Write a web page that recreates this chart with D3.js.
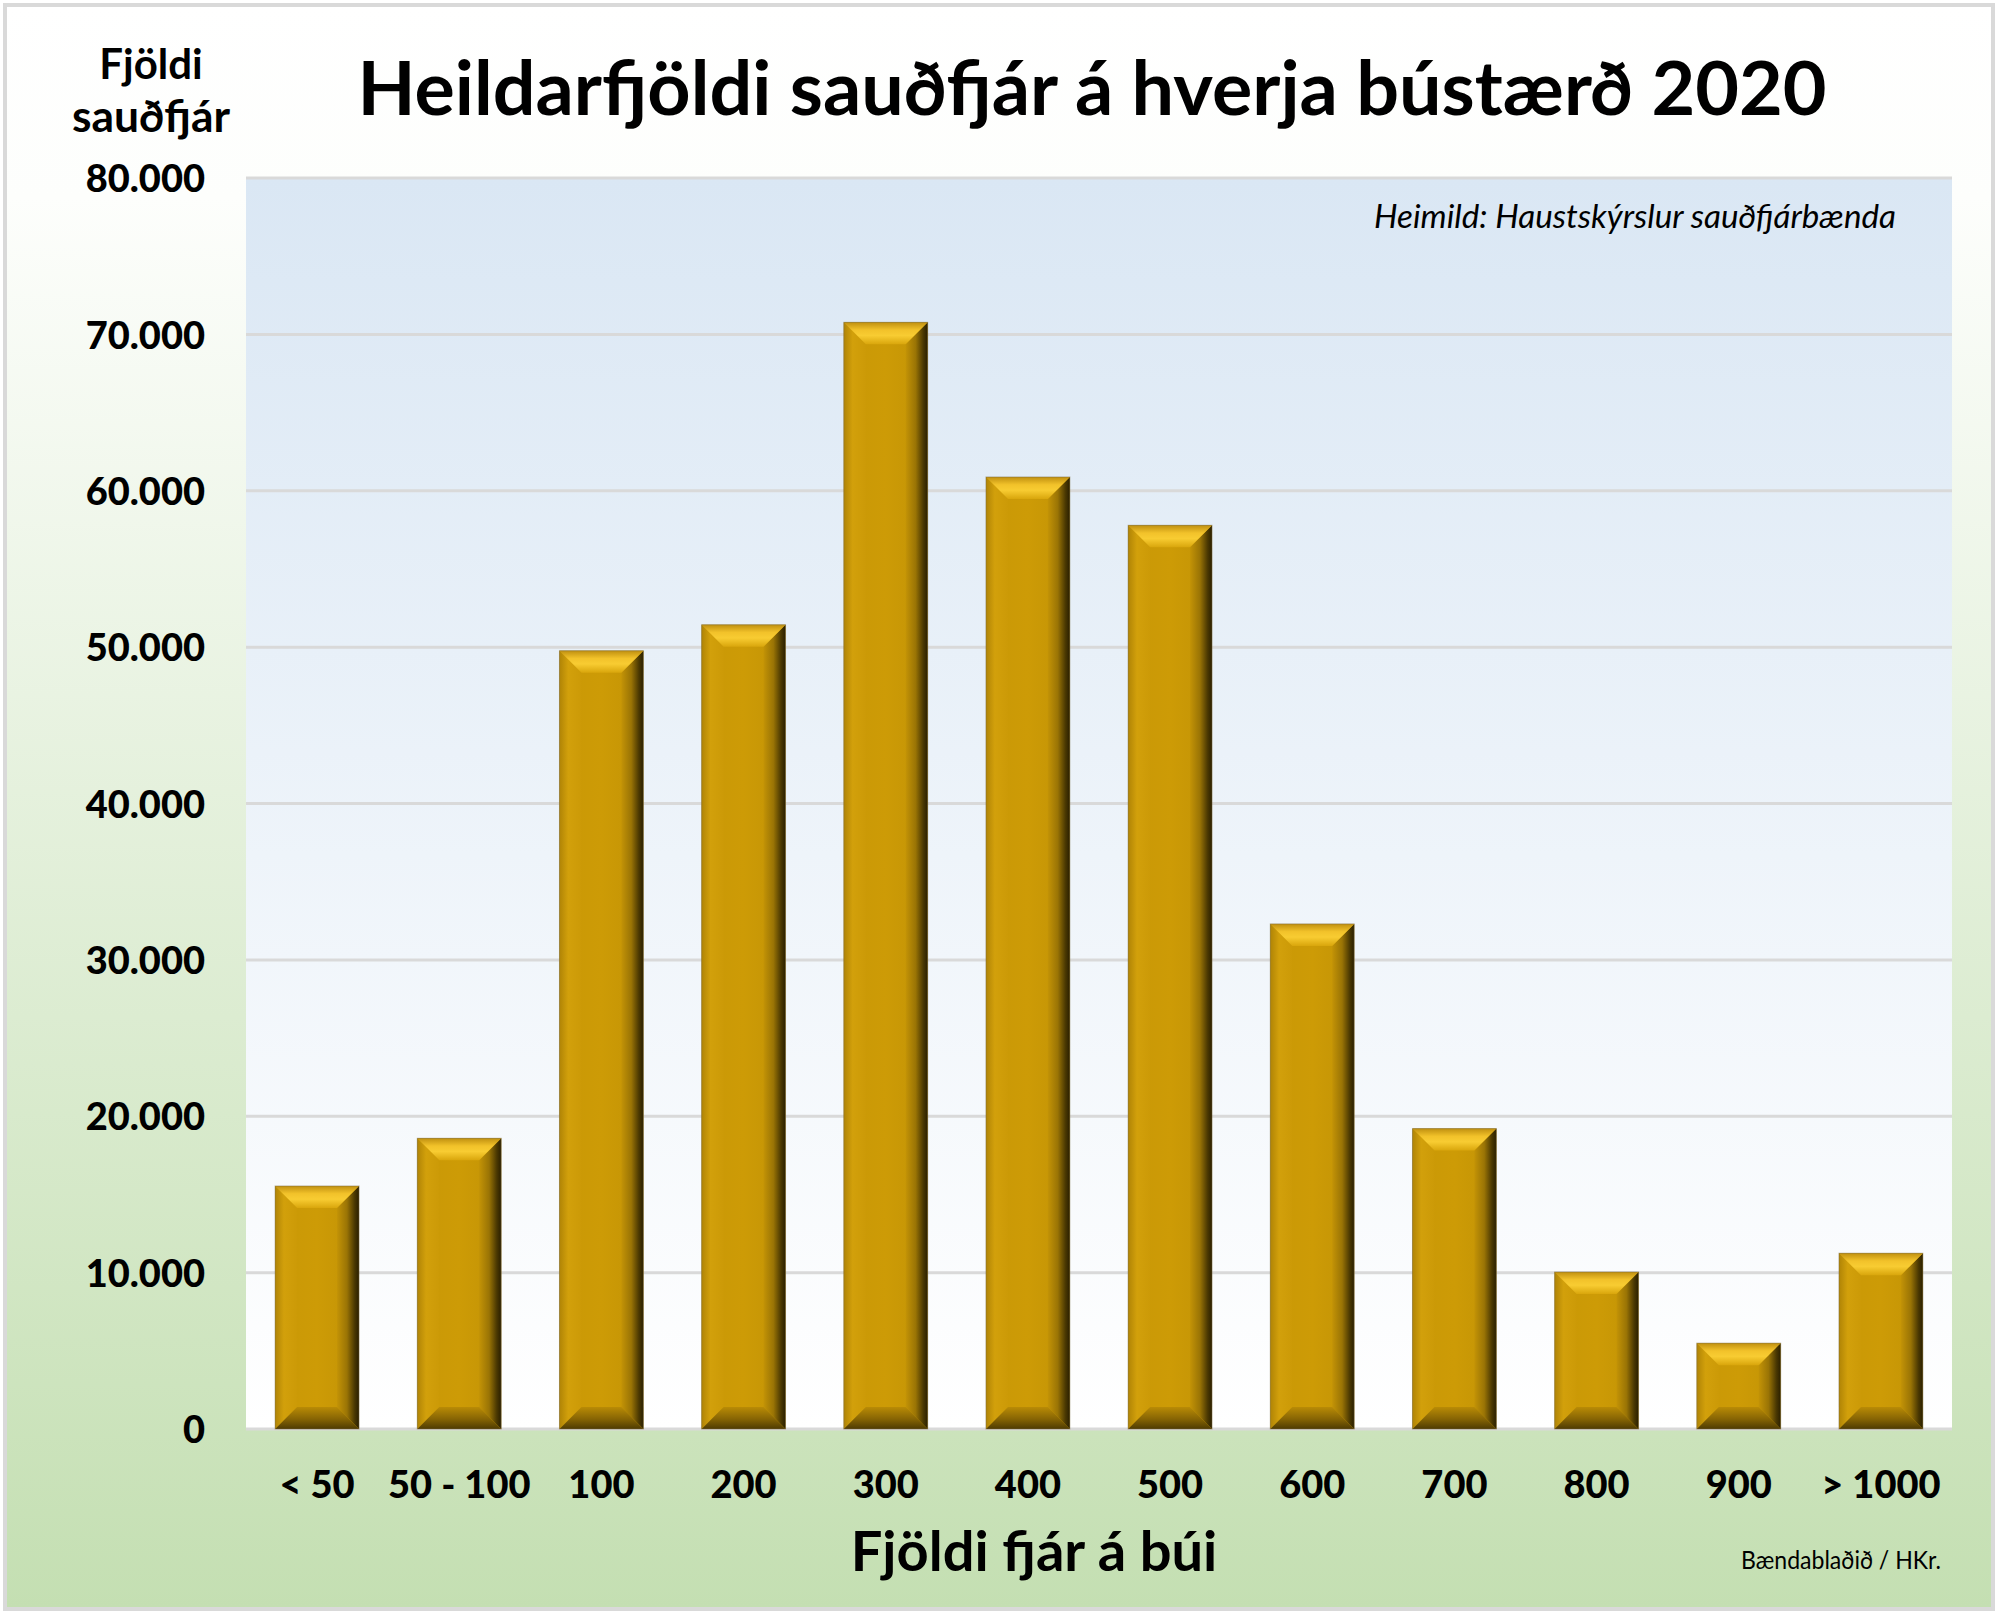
<!DOCTYPE html>
<html>
<head>
<meta charset="utf-8">
<script src="https://cdn.jsdelivr.net/npm/d3@7/dist/d3.min.js"></script>
<style>
  html, body { margin: 0; padding: 0; background: #ffffff; }
  svg { display: block; }
  text { font-family: Lato, "Open Sans", sans-serif; fill: #000; }
</style>
</head>
<body>
<svg id="chart" width="2000" height="1615"></svg>
<script>
// ---- data ----
const categories = ["< 50", "50 - 100", "100", "200", "300", "400", "500", "600", "700", "800", "900", "> 1000"];
const values = [15540, 18590, 49770, 51430, 70770, 60880, 57790, 32300, 19210, 10040, 5490, 11240];
const yTicks = [0, 10000, 20000, 30000, 40000, 50000, 60000, 70000, 80000];
const titleText = "Heildarfjöldi sauðfjár á hverja bústærð 2020";
const yTitleLines = ["Fjöldi", "sauðfjár"];
const xTitleText = "Fjöldi fjár á búi";
const sourceText = "Heimild: Haustskýrslur sauðfjárbænda";
const creditText = "Bændablaðið / HKr.";

// ---- layout ----
const plot = { left: 246, right: 1952, top: 178, bottom: 1429 };

const svg = d3.select("#chart");
const defs = svg.append("defs");

function linGrad(id, x1, y1, x2, y2, stops) {
  const g = defs.append("linearGradient").attr("id", id)
    .attr("x1", x1).attr("y1", y1).attr("x2", x2).attr("y2", y2);
  stops.forEach(s => g.append("stop").attr("offset", s[0]).attr("stop-color", s[1]));
  return g;
}
linGrad("bgGrad", 0, 0, 0, 1, [["0%", "#ffffff"], ["12%", "#fdfefc"], ["100%", "#c4dfb2"]]);
linGrad("plotGrad", 0, 0, 0, 1, [["0%", "#dae7f4"], ["100%", "#ffffff"]]);
linGrad("faceGrad", 0, 0, 1, 0, [["0%", "#c99806"], ["50%", "#cd9b06"], ["100%", "#c29305"]]);
linGrad("topGrad", 0, 0, 0, 1, [["0%", "#c09010"], ["35%", "#f2c22a"], ["60%", "#f8cc32"], ["100%", "#d9a60c"]]);
linGrad("botGrad", 0, 0, 0, 1, [["0%", "#b98b06"], ["55%", "#866404"], ["100%", "#4e3b02"]]);
linGrad("leftGrad", 0, 0, 1, 0, [["0%", "#b08406"], ["40%", "#d2a00b"], ["100%", "#cc9a07"]]);
linGrad("rightGrad", 0, 0, 1, 0, [["0%", "#c39306"], ["45%", "#9a7405"], ["80%", "#4a3802"], ["100%", "#2a1f00"]]);

// background + border
svg.append("rect").attr("x", 5).attr("y", 5).attr("width", 1988).attr("height", 1604)
  .attr("fill", "url(#bgGrad)").attr("stroke", "#d9d9d9").attr("stroke-width", 4);

// plot area
svg.append("rect").attr("x", plot.left).attr("y", plot.top)
  .attr("width", plot.right - plot.left).attr("height", plot.bottom - plot.top)
  .attr("fill", "url(#plotGrad)");

// scales
const x = d3.scaleBand().domain(categories).range([plot.left, plot.right])
  .paddingInner(0.41).paddingOuter(0.205);
const y = d3.scaleLinear().domain([0, 80000]).range([plot.bottom, plot.top]);

const fmtLocale = d3.formatLocale({ decimal: ",", thousands: ".", grouping: [3], currency: ["", ""] });
const fmt = fmtLocale.format(",d");

// gridlines
svg.append("g").selectAll("line").data(yTicks).join("line")
  .attr("x1", plot.left).attr("x2", plot.right)
  .attr("y1", d => y(d)).attr("y2", d => y(d))
  .attr("stroke", "#d9d9d9").attr("stroke-width", 3);

// y axis labels
const yAxis = svg.append("g").attr("transform", `translate(${plot.left},0)`)
  .call(d3.axisLeft(y).tickValues(yTicks).tickFormat(fmt).tickSize(0).tickPadding(41));
yAxis.select(".domain").remove();
yAxis.selectAll("text")
  .attr("font-family", "Lato, sans-serif").attr("font-weight", "900")
  .attr("font-size", 38).attr("fill", "#000").attr("dy", "0.36em");

// x axis labels
const xAxis = svg.append("g").attr("transform", `translate(0,${plot.bottom})`)
  .call(d3.axisBottom(x).tickSize(0).tickPadding(0));
xAxis.select(".domain").remove();
xAxis.selectAll("text")
  .attr("font-family", "Lato, sans-serif").attr("font-weight", "900")
  .attr("font-size", 38).attr("fill", "#000").attr("dy", 0).attr("y", 69);

// bars with bevel
const bars = svg.append("g").selectAll("g").data(categories.map((c, i) => ({ c, v: values[i] }))).join("g");
bars.each(function (d) {
  const g = d3.select(this);
  const x0 = x(d.c), w = x.bandwidth();
  const y0 = y(d.v), h = y(0) - y(d.v);
  const b = Math.min(22, h / 2, w / 2);
  const pt = p => p.map(q => q.join(",")).join(" ");
  g.append("rect").attr("x", x0).attr("y", y0).attr("width", w).attr("height", h).attr("fill", "url(#faceGrad)");
  g.append("polygon").attr("points", pt([[x0, y0], [x0 + b, y0 + b], [x0 + b, y0 + h - b], [x0, y0 + h]]))
    .attr("fill", "url(#leftGrad)");
  g.append("polygon").attr("points", pt([[x0 + w, y0], [x0 + w - b, y0 + b], [x0 + w - b, y0 + h - b], [x0 + w, y0 + h]]))
    .attr("fill", "url(#rightGrad)");
  g.append("polygon").attr("points", pt([[x0, y0], [x0 + w, y0], [x0 + w - b, y0 + b], [x0 + b, y0 + b]]))
    .attr("fill", "url(#topGrad)");
  g.append("polygon").attr("points", pt([[x0, y0 + h], [x0 + w, y0 + h], [x0 + w - b, y0 + h - b], [x0 + b, y0 + h - b]]))
    .attr("fill", "url(#botGrad)");
  g.append("rect").attr("x", x0).attr("y", y0).attr("width", w).attr("height", h)
    .attr("fill", "none").attr("stroke", "#7a6a40").attr("stroke-opacity", 0.5).attr("stroke-width", 1);
});

// title
svg.append("text").attr("x", 1092).attr("y", 115).attr("text-anchor", "middle")
  .attr("font-weight", "bold").attr("font-size", 75)
  .attr("textLength", 1469).attr("lengthAdjust", "spacingAndGlyphs")
  .text(titleText);

// y title
svg.append("text").attr("x", 151).attr("y", 79).attr("text-anchor", "middle")
  .attr("font-weight", "bold").attr("font-size", 42).text(yTitleLines[0]);
svg.append("text").attr("x", 151).attr("y", 132).attr("text-anchor", "middle")
  .attr("font-weight", "bold").attr("font-size", 43)
  .attr("textLength", 158).attr("lengthAdjust", "spacingAndGlyphs").text(yTitleLines[1]);

// x title
svg.append("text").attr("x", 1034).attr("y", 1571).attr("text-anchor", "middle")
  .attr("font-weight", "bold").attr("font-size", 56).text(xTitleText);

// source
svg.append("text").attr("x", 1896).attr("y", 228).attr("text-anchor", "end")
  .attr("font-style", "italic").attr("font-size", 32)
  .attr("textLength", 522).attr("lengthAdjust", "spacingAndGlyphs").text(sourceText);

// credit
svg.append("text").attr("x", 1941).attr("y", 1569).attr("text-anchor", "end")
  .attr("font-size", 25)
  .attr("textLength", 200).attr("lengthAdjust", "spacingAndGlyphs").text(creditText);
</script>
</body>
</html>
